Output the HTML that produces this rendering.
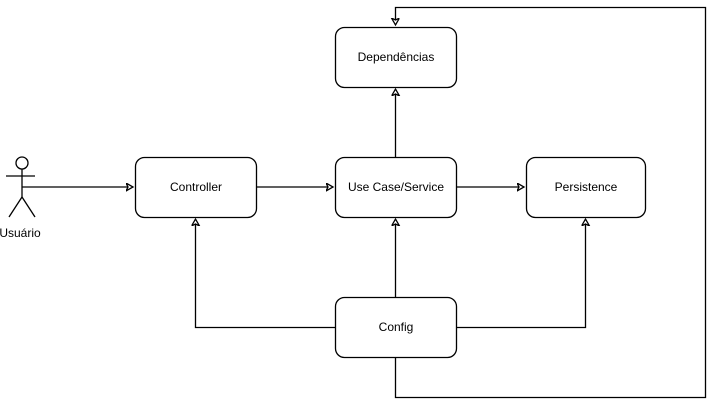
<!DOCTYPE html>
<html><head><meta charset="utf-8"><style>
html,body{margin:0;padding:0;background:#fff;}
svg{display:block;}
text{font-family:"Liberation Sans",sans-serif;font-size:12px;fill:#000;}
</style></head><body>
<svg width="714" height="406" viewBox="0 0 714 406" xmlns="http://www.w3.org/2000/svg">
<defs>
<marker id="a" markerWidth="10" markerHeight="10" refX="7" refY="4" orient="auto" markerUnits="userSpaceOnUse">
<path d="M0,0 L7,4 L0,8 L2,4 Z" fill="#fff" stroke="#000" stroke-width="1.3"/>
</marker>
</defs>
<g fill="none" stroke="#000" stroke-width="1.3">
<!-- boxes -->
<rect x="135.5" y="157.5" width="121" height="60" rx="9"/>
<rect x="335.5" y="157.5" width="121" height="60" rx="9"/>
<rect x="526.5" y="157.5" width="119" height="60" rx="9"/>
<rect x="335.5" y="27.5" width="121" height="60" rx="9"/>
<rect x="335.5" y="297.5" width="121" height="60" rx="9"/>
<!-- actor -->
<circle cx="22" cy="163" r="6"/>
<line x1="22" y1="169" x2="22" y2="197"/>
<line x1="6" y1="176" x2="35" y2="176"/>
<line x1="22" y1="197" x2="9" y2="217"/>
<line x1="22" y1="197" x2="35" y2="217"/>
<!-- connectors -->
<line x1="22" y1="187" x2="133" y2="187" marker-end="url(#a)"/>
<line x1="256" y1="187" x2="333" y2="187" marker-end="url(#a)"/>
<line x1="456" y1="187" x2="524" y2="187" marker-end="url(#a)"/>
<line x1="395.5" y1="157" x2="395.5" y2="89" marker-end="url(#a)"/>
<line x1="395.5" y1="297" x2="395.5" y2="219" marker-end="url(#a)"/>
<polyline points="335,327.5 195.5,327.5 195.5,219" marker-end="url(#a)"/>
<polyline points="456,327.5 585.5,327.5 585.5,219" marker-end="url(#a)"/>
<polyline points="395.5,357 395.5,397.5 705.5,397.5 705.5,7.5 395.5,7.5 395.5,25" marker-end="url(#a)"/>
</g>
<text x="196" y="191" text-anchor="middle">Controller</text>
<text x="396" y="191" text-anchor="middle">Use Case/Service</text>
<text x="586" y="191" text-anchor="middle">Persistence</text>
<text x="396" y="61" text-anchor="middle">Dependências</text>
<text x="396" y="331" text-anchor="middle">Config</text>
<text x="20" y="237" text-anchor="middle">Usuário</text>
</svg>
</body></html>
